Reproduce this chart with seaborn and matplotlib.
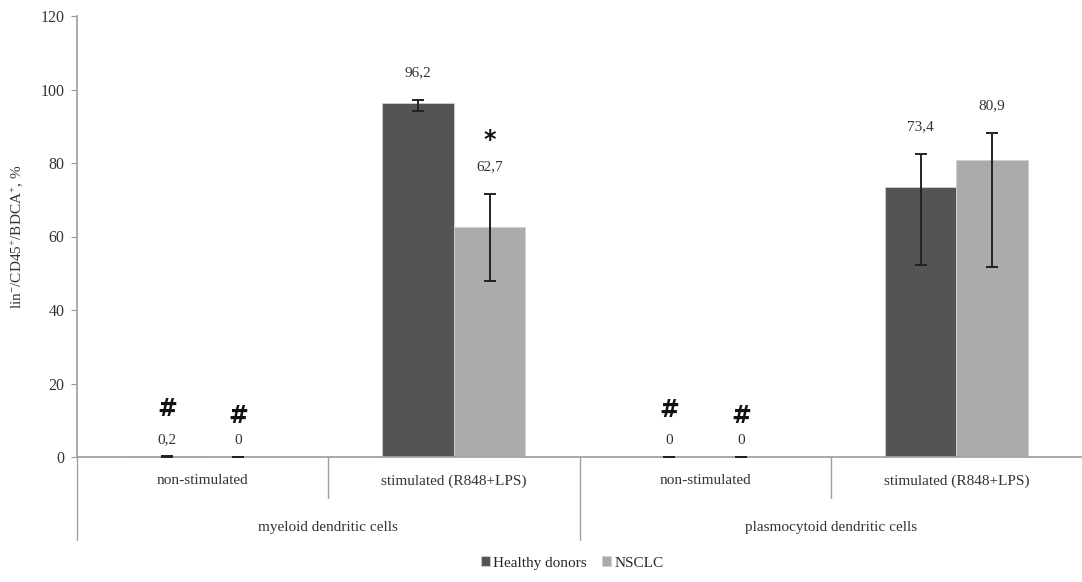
import matplotlib
matplotlib.use("Agg")
import matplotlib.pyplot as plt
import numpy as np
import pandas as pd
import seaborn as sns

# data
conditions = ["non-stimulated", "stimulated (R848+LPS)",
              "non-stimulated", "stimulated (R848+LPS)"]
cell_types = ["myeloid dendritic cells", "plasmocytoid dendritic cells"]
groups = ["Healthy donors", "NSCLC"]

healthy = [0.2, 96.2, 0.0, 73.4]
nsclc = [0.0, 62.7, 0.0, 80.9]
healthy_err_lo = [0.2, 2.0, 0.0, 21.2]
healthy_err_hi = [0.2, 1.0, 0.0, 9.0]
nsclc_err_lo = [0.0, 14.8, 0.0, 29.3]
nsclc_err_hi = [0.0, 8.9, 0.0, 7.2]
healthy_marks = ["#", "", "#", ""]
nsclc_marks = ["#", "*", "#", ""]

colors = ["#535554", "#ababab"]

sns.set_theme(style="white")
plt.rcParams["font.family"] = ["Liberation Serif", "DejaVu Serif"]
plt.rcParams["mathtext.fontset"] = "custom"
plt.rcParams["mathtext.rm"] = "Liberation Serif"
plt.rcParams["mathtext.it"] = "Liberation Serif:italic"

keys = [f"{c}|{i}" for i, c in enumerate(conditions)]
df = pd.DataFrame({
    "key": keys * 2,
    "group": [groups[0]] * 4 + [groups[1]] * 4,
    "value": healthy + nsclc,
})

fig = plt.figure(figsize=(10.82, 5.82), dpi=100)
ax = fig.add_axes([77 / 1082, 1 - 457 / 582, 1 - 77 / 1082, 441 / 582])

sns.barplot(data=df, x="key", y="value", hue="group", order=keys,
            hue_order=groups, palette=colors, width=0.57, saturation=1,
            edgecolor="#d0d0d0", linewidth=0.6, ax=ax, legend=True)

ax.set_ylim(0, 120)
ax.set_xlim(-0.5, 3.5)
ax.set_yticks(np.arange(0, 121, 20))
ax.tick_params(axis="y", labelsize=11.5, colors="#333333", length=4,
               width=0.8, direction="out", left=True, pad=5)
ax.tick_params(axis="y", color="#999999")
ax.set_xticks([])
ax.set_xlabel("")
ax.set_ylabel(r"lin$^{-}$/CD45$^{+}$/BDCA$^{+}$, %", fontsize=11,
              color="#333333", labelpad=11)
for s in ["top", "right"]:
    ax.spines[s].set_visible(False)
ax.spines["left"].set_color("#a0a0a0")
ax.spines["bottom"].set_color("#a0a0a0")
ax.spines["left"].set_bounds(0, 120)

# error bars, labels and markers at the bar positions
series = [(healthy, healthy_err_lo, healthy_err_hi, healthy_marks),
          (nsclc, nsclc_err_lo, nsclc_err_hi, nsclc_marks)]
for h, (vals, lo, hi, marks) in enumerate(series):
    bars = ax.containers[h]
    for i, bar in enumerate(bars):
        xc = bar.get_x() + bar.get_width() / 2
        v = vals[i]
        ax.errorbar(xc, v, yerr=[[lo[i]], [hi[i]]], fmt="none",
                    ecolor="#222222", elinewidth=1.4, capsize=4,
                    capthick=1.4, zorder=5)
        top = v + hi[i]
        pad = 15 if v > 1 else 7
        label = f"{v:g}".replace(".", ",")
        ax.annotate(label, (xc, top), xytext=(0, pad),
                    textcoords="offset points", ha="center", va="bottom",
                    fontsize=11, color="#333333")
        if marks[i]:
            mpad = pad + 18 if marks[i] == "#" else pad + 15
            if marks[i] == "#" and h == 1:
                mpad -= 4
            ax.annotate(marks[i], (xc, top), xytext=(0, mpad),
                        textcoords="offset points", ha="center",
                        va="bottom", fontsize=17, color="#111111",
                        family="DejaVu Sans", weight="bold")

# hierarchical category axis
trans = ax.get_xaxis_transform()
for i, c in enumerate(conditions):
    ax.text(i, -0.054, c, transform=trans, ha="center", va="center",
            fontsize=11, color="#333333")
for j, ct in enumerate(cell_types):
    ax.text(2 * j + 0.5, -0.159, ct, transform=trans, ha="center",
            va="center", fontsize=11, color="#333333")
for b in [0.5, 2.5]:
    ax.plot([b, b], [0, -0.093], transform=trans, color="#a0a0a0",
            lw=1.0, clip_on=False)
for b in [-0.5, 1.5]:
    ax.plot([b, b], [0, -0.188], transform=trans, color="#a0a0a0",
            lw=1.0, clip_on=False)

handles, labels = ax.get_legend_handles_labels()
ax.get_legend().remove()
fig.legend(handles, labels, loc="center",
           bbox_to_anchor=(572 / 1082, 1 - 563 / 582),
           ncol=2, frameon=False, fontsize=11, handlelength=0.6,
           handleheight=0.6, handletextpad=0.2, columnspacing=1.0)

fig.savefig("out.png", dpi=100)
